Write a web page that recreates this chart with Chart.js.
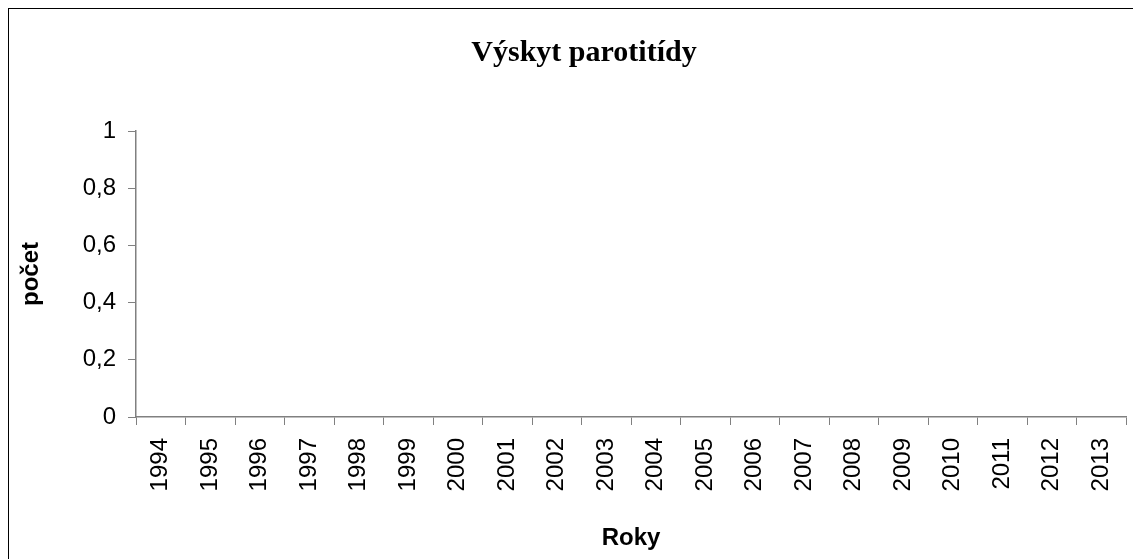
<!DOCTYPE html>
<html>
<head>
<meta charset="utf-8">
<script src="https://cdn.jsdelivr.net/npm/chart.js@4"></script>
<style>
  body { margin: 0; background: #fff; overflow: hidden; }
  #frame { position: absolute; left: 8px; top: 8px; width: 1200px; height: 600px; border: 1.5px solid #000; }
  #wrap { position: absolute; left: 0; top: 0; width: 1133px; height: 559px; }
</style>
</head>
<body>
<div id="frame"></div>
<div id="wrap"><canvas id="chart"></canvas></div>
<script>
const years = ['1994', '1995', '1996', '1997', '1998', '1999', '2000', '2001', '2002', '2003',
               '2004', '2005', '2006', '2007', '2008', '2009', '2010', '2011', '2012', '2013'];
// no values are shown in the chart
const counts = [null, null, null, null, null, null, null, null, null, null,
                null, null, null, null, null, null, null, null, null, null];
const yTicks = [0, 0.2, 0.4, 0.6, 0.8, 1];

const ctx = document.getElementById('chart').getContext('2d');
const axisColor = '#808080';
const sans = 'Liberation Sans, Arial, sans-serif';
const tickFont = { family: sans, size: 24 };

// the excel title is centred on the whole chart frame, which runs past the window
const centreTitle = {
    id: 'centreTitle',
    afterLayout(chart) {
        if (chart.titleBlock) {
            chart.titleBlock.left = 8;
            chart.titleBlock.right = 1160;
        }
    }
};

new Chart(ctx, {
    type: 'bar',
    data: {
        labels: years,
        datasets: [{ label: 'počet', data: counts, backgroundColor: '#000080' }]
    },
    plugins: [centreTitle],
    options: {
        responsive: true,
        maintainAspectRatio: false,
        animation: false,
        layout: { padding: { left: 0, right: 7, top: 0, bottom: 0 } },
        plugins: {
            legend: { display: false },
            tooltip: { enabled: false },
            title: {
                display: true,
                text: 'Výskyt parotitídy',
                color: '#000',
                font: { family: 'Liberation Serif, Times New Roman, serif', size: 30, weight: 'bold' },
                padding: { top: 35, bottom: 60 }
            }
        },
        scales: {
            x: {
                grid: { drawOnChartArea: false, drawTicks: true, tickLength: 8, color: axisColor, offset: true },
                border: { color: axisColor, width: 1.5 },
                ticks: { color: '#000', font: tickFont, minRotation: 90, maxRotation: 90, padding: 13, autoSkip: false },
                title: {
                    display: true, text: 'Roky', color: '#000',
                    font: { family: sans, size: 24, weight: 'bold' },
                    padding: { top: 0, bottom: 6 }
                },
                afterFit: function (scale) {
                    scale.height = 142;
                    scale.paddingLeft = 0;
                    scale.paddingRight = 0;
                }
            },
            y: {
                min: 0,
                max: 1,
                grid: { drawOnChartArea: false, drawTicks: true, tickLength: 8, color: axisColor },
                border: { color: axisColor, width: 1.5 },
                afterBuildTicks: function (scale) { scale.ticks = yTicks.map(v => ({ value: v })); },
                ticks: {
                    color: '#000', font: tickFont, padding: 12,
                    callback: function (v) { return String(Math.round(v * 10) / 10).replace('.', ','); }
                },
                title: {
                    display: true, text: 'počet', color: '#000',
                    font: { family: sans, size: 24, weight: 'bold' },
                    padding: { top: 17, bottom: 0 }
                },
                afterFit: function (scale) { scale.width = 136; }
            }
        }
    }
});
</script>
</body>
</html>
